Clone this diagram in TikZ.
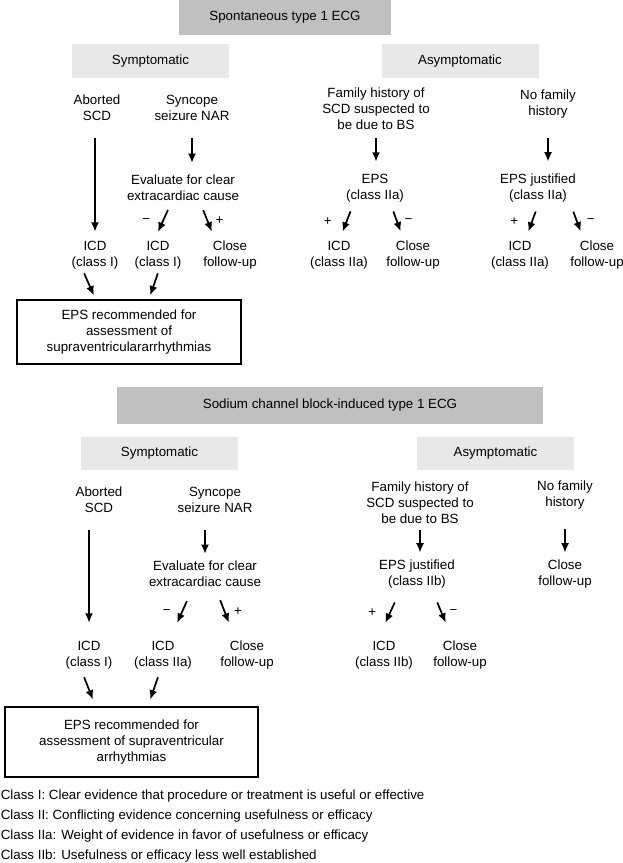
\documentclass[tikz,border=0pt]{standalone}
\usepackage{fontspec}
\setmainfont{Liberation Sans}
\usepackage{xcolor}
\usetikzlibrary{arrows.meta}
\definecolor{headgray}{RGB}{192,192,192}
\definecolor{subgray}{RGB}{232,232,232}

\begin{document}
\begin{tikzpicture}[x=0.75pt,y=-0.75pt,
  txt/.style={align=center,inner sep=0pt,font=\fontsize{10}{12}\selectfont},
  head/.style={txt,fill=headgray},
  sub/.style={txt,fill=subgray,minimum width=117.75pt},
  recbox/.style={txt,draw,line width=0.9pt},
  arr/.style={-{Latex[length=7pt,width=6pt]},line width=1.3pt},
  sgn/.style={inner sep=0pt,font=\fontsize{10}{12}\selectfont}]
\useasboundingbox (0,0) rectangle (622,863);

% spontaneous type 1 ECG
\node[head,minimum width=159pt,minimum height=26.25pt] (sp1) at (285,17.5) {Spontaneous type 1 ECG};
\node[sub,minimum height=25.5pt] (sym1) at (150.5,61) {Symptomatic};
\node[sub,minimum height=25.5pt] (asy1) at (460,61) {Asymptomatic};

\node[txt] (ab1) at (97,108) {Aborted\\SCD};
\node[txt] (syn1) at (192,108) {Syncope\\seizure NAR};
\node[txt] (fam1) at (376,109) {Family history of\\SCD suspected to\\be due to BS};
\node[txt] (nof1) at (548,104) {No family\\history};

\node[txt] (ev1) at (183,188) {Evaluate for clear\\extracardiac cause};
\node[txt] (eps1) at (375,188) {EPS\\(class IIa)};
\node[txt] (epj1) at (538,188) {EPS justified\\(class IIa)};

\node[txt] (icdA1) at (95,255) {ICD\\(class I)};
\node[txt] (icdB1) at (158,255) {ICD\\(class I)};
\node[txt] (cfu1) at (230,255) {Close\\follow-up};
\node[txt] (icdC1) at (339,255) {ICD\\(class IIa)};
\node[txt] (cfuC1) at (413,255) {Close\\follow-up};
\node[txt] (icdD1) at (520,255) {ICD\\(class IIa)};
\node[txt] (cfuD1) at (597,255) {Close\\follow-up};

\node[recbox,minimum width=168pt,minimum height=48pt] (rec1) at (129,332) {EPS recommended for\\assessment of\\supraventriculararrhythmias};

\draw[arr,shorten <=12.75pt,shorten >=6.75pt] (ab1.south -| icdA1.north) -- (icdA1.north);
\draw[arr,shorten <=12.75pt,shorten >=9pt] (syn1.south) -- (syn1.south |- ev1.north);
\draw[arr,shorten <=6pt,shorten >=9pt] (fam1.south) -- (fam1.south |- eps1.north);
\draw[arr,shorten <=14.5pt,shorten >=9pt] (nof1.south) -- (nof1.south |- epj1.north);

\draw[arr,shorten <=7.3pt,shorten >=7.3pt] ([xshift=-8.3pt]ev1.south) -- node[sgn,left=9pt]{−} ([xshift=-3pt]icdB1.north);
\draw[arr,shorten <=7.3pt,shorten >=7.3pt] ([xshift=12.4pt]ev1.south) -- node[sgn,right=5.5pt]{+} ([xshift=-10.9pt]cfu1.north);
\draw[arr,shorten <=7.3pt,shorten >=7.3pt] ([xshift=-15.7pt]eps1.south) -- node[sgn,left=10.5pt]{+} (icdC1.north);
\draw[arr,shorten <=7.3pt,shorten >=7.3pt] ([xshift=11.2pt]eps1.south) -- node[sgn,right=5pt]{−} ([xshift=-6.7pt]cfuC1.north);
\draw[arr,shorten <=7.3pt,shorten >=7.3pt] ([xshift=0.8pt]epj1.south) -- node[sgn,left=9.75pt]{+} ([xshift=3.7pt]icdD1.north);
\draw[arr,shorten <=7.3pt,shorten >=7.3pt] ([xshift=23.9pt]epj1.south) -- node[sgn,right=6.75pt]{−} ([xshift=-9.7pt]cfuD1.north);

\draw[arr,shorten <=3.25pt,shorten >=3.25pt] ([xshift=-9.5pt]icdA1.south) -- ([xshift=-25pt]rec1.north);
\draw[arr,shorten <=3.25pt,shorten >=3.25pt] ([xshift=1pt]icdB1.south) -- ([xshift=14.8pt]rec1.north);

% sodium channel block-induced type 1 ECG
\node[head,minimum width=319.5pt,minimum height=27.75pt] (sod2) at (330,405.5) {Sodium channel block-induced type 1 ECG};
\node[sub,minimum height=24.75pt] (sym2) at (159.5,453.5) {Symptomatic};
\node[sub,minimum height=24.75pt] (asy2) at (495.5,453.5) {Asymptomatic};

\node[txt] (ab2) at (99,500) {Aborted\\SCD};
\node[txt] (syn2) at (215,500) {Syncope\\seizure NAR};
\node[txt] (fam2) at (420,503) {Family history of\\SCD suspected to\\be due to BS};
\node[txt] (nof2) at (565,495) {No family\\history};

\node[txt] (ev2) at (205,574) {Evaluate for clear\\extracardiac cause};
\node[txt] (epj2) at (417,574) {EPS justified\\(class IIb)};
\node[txt] (cfn2) at (565,574) {Close\\follow-up};

\node[txt] (icdA2) at (89,655) {ICD\\(class I)};
\node[txt] (icdB2) at (163,655) {ICD\\(class IIa)};
\node[txt] (cfu2) at (247,655) {Close\\follow-up};
\node[txt] (icdC2) at (384,655) {ICD\\(class IIb)};
\node[txt] (cfuC2) at (460,655) {Close\\follow-up};

\node[recbox,minimum width=189.75pt,minimum height=52.5pt] (rec2) at (131.5,742) {EPS recommended for\\assessment of supraventricular\\arrhythmias};

\draw[arr,shorten <=12.75pt,shorten >=13.5pt] (ab2.south -| icdA2.north) -- (icdA2.north);
\draw[arr,shorten <=12.75pt,shorten >=5.25pt] (ev2.north |- syn2.south) -- (ev2.north);
\draw[arr,shorten <=4.5pt,shorten >=5.25pt] (fam2.south) -- (fam2.south |- epj2.north);
\draw[arr,shorten <=15pt,shorten >=5.25pt] (nof2.south) -- (cfn2.north);

\draw[arr,shorten <=11.5pt,shorten >=14.7pt] ([xshift=-8.9pt]ev2.south) -- node[sgn,pos=0.46,left=8pt]{−} ([xshift=4.6pt]icdB2.north);
\draw[arr,shorten <=10.4pt,shorten >=14.4pt] ([xshift=7.6pt]ev2.south) -- node[sgn,pos=0.46,right=6.4pt]{+} ([xshift=-8.4pt]cfu2.north);
\draw[arr,shorten <=11.5pt,shorten >=14.7pt] ([xshift=-11.9pt]epj2.south) -- node[sgn,pos=0.46,left=9.75pt]{+} ([xshift=-5.1pt]icdC2.north);
\draw[arr,shorten <=11.3pt,shorten >=14.5pt] ([xshift=10.9pt]epj2.south) -- node[sgn,pos=0.46,right=5.6pt]{−} ([xshift=-5.25pt]cfuC2.north);

\draw[arr,shorten <=6.4pt,shorten >=5.6pt] ([xshift=-6pt]icdA2.south) -- ([xshift=-26.9pt]rec2.north);
\draw[arr,shorten <=6.3pt,shorten >=5.5pt] ([xshift=-1.7pt]icdB2.south) -- ([xshift=12.2pt]rec2.north);

% class legend
\node[txt,align=left,anchor=west,font=\fontsize{10}{15}\selectfont] (leg) at (0.5,826.3) {Class I: Clear evidence that procedure or treatment is useful or effective\\Class II: Conflicting evidence concerning usefulness or efficacy\\Class IIa: Weight of evidence in favor of usefulness or efficacy\\Class IIb: Usefulness or efficacy less well established};
\end{tikzpicture}
\end{document}
